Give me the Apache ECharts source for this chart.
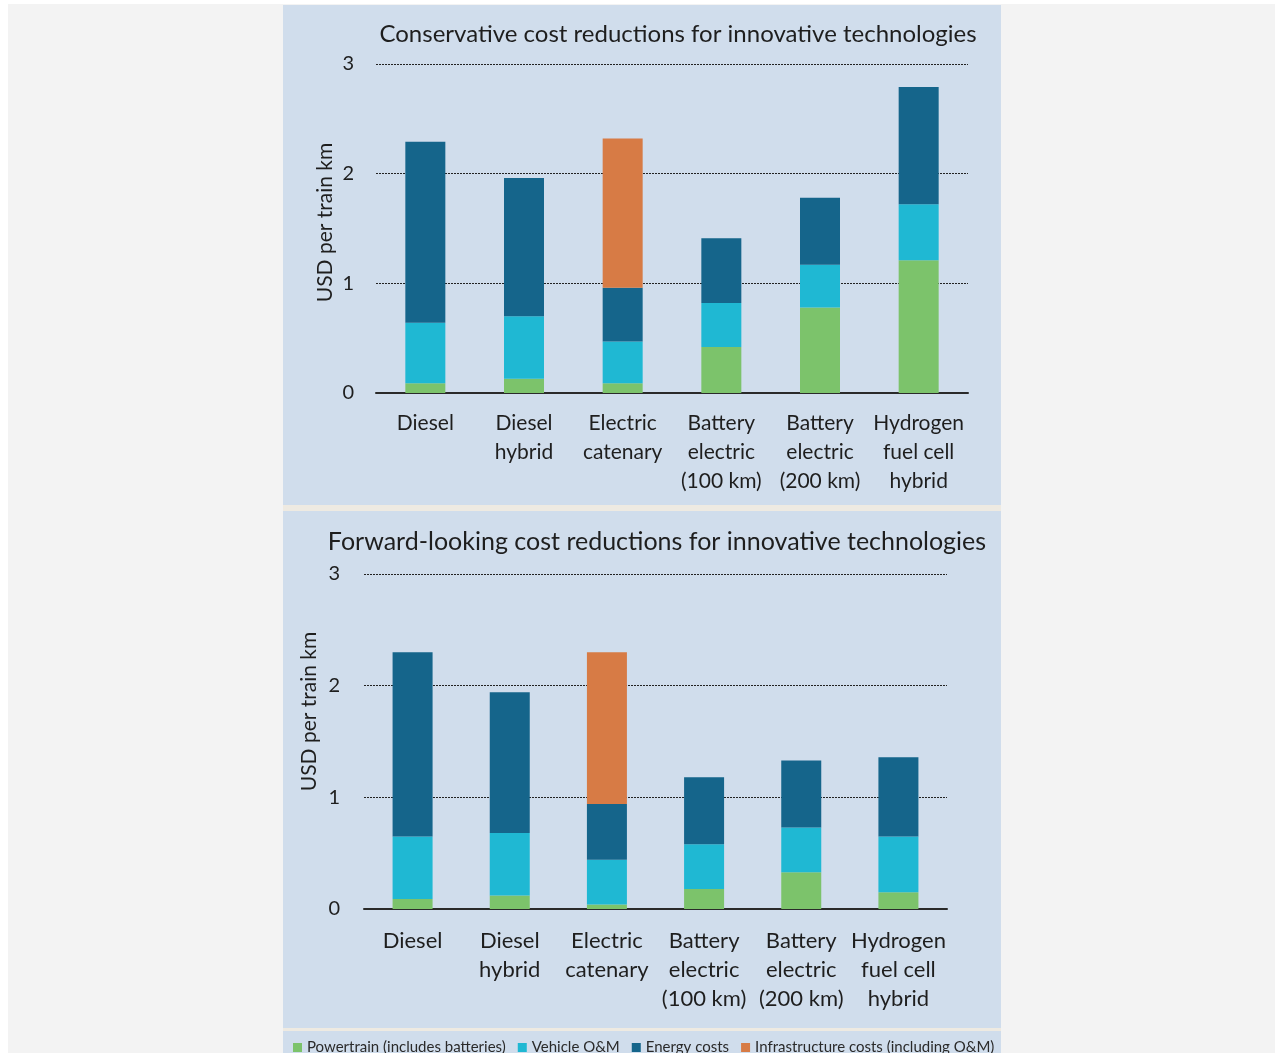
<!DOCTYPE html>
<html>
<head>
<meta charset="utf-8">
<title>Rail cost comparison</title>
<script src="https://cdn.jsdelivr.net/npm/echarts@6/dist/echarts.min.js"></script>
<style>
  html, body { margin: 0; padding: 0; background: #ffffff; }
  body { width: 1275px; height: 1053px; position: relative; overflow: hidden; }
  .panel { position: absolute; }
  #chart { position: absolute; left: 0; top: 0; width: 1275px; height: 1053px; }
</style>
</head>
<body>
<div class="panel" style="left:8px;top:4px;width:1267px;height:1049px;background:#f3f3f3;"></div>
<div class="panel" style="left:283px;top:5px;width:718px;height:500px;background:#d0ddec;"></div>
<div class="panel" style="left:283px;top:505px;width:718px;height:6px;background:#eeeae2;"></div>
<div class="panel" style="left:283px;top:511px;width:718px;height:517px;background:#d0ddec;"></div>
<div class="panel" style="left:283px;top:1028px;width:718px;height:3px;background:#eeeae2;"></div>
<div class="panel" style="left:283px;top:1031px;width:718px;height:22px;background:#d0ddec;"></div>
<div id="chart"></div>
<script>
// Technologies compared (x-axis categories)
const categories = [
  'Diesel',
  'Diesel\nhybrid',
  'Electric\ncatenary',
  'Battery\nelectric\n(100 km)',
  'Battery\nelectric\n(200 km)',
  'Hydrogen\nfuel cell\nhybrid'
];

// Y-axis ticks (USD per train km)
const yTicks = [0, 1, 2, 3];

// Cost components, conservative cost reductions
const powertrainCons = [0.09, 0.13, 0.09, 0.42, 0.78, 1.21];
const vehicleOmCons  = [0.55, 0.57, 0.38, 0.40, 0.39, 0.51];
const energyCons     = [1.65, 1.26, 0.49, 0.59, 0.61, 1.07];
const infraCons      = [0, 0, 1.36, 0, 0, 0];

// Cost components, forward-looking cost reductions
const powertrainFwd = [0.09, 0.12, 0.04, 0.18, 0.33, 0.15];
const vehicleOmFwd  = [0.56, 0.56, 0.40, 0.40, 0.40, 0.50];
const energyFwd     = [1.65, 1.26, 0.50, 0.60, 0.60, 0.71];
const infraFwd      = [0, 0, 1.36, 0, 0, 0];

const seriesNames = [
  'Powertrain (includes batteries)',
  'Vehicle O&M',
  'Energy costs',
  'Infrastructure costs (including O&M)'
];
const colors = ['#7cc36b', '#1fb8d3', '#15658b', '#d77b45'];

const FONT = 'Lato';
const textColor = '#1e1e1e';

function xAxisFor(gridIndex, fontSize, margin) {
  return {
    type: 'category',
    gridIndex: gridIndex,
    data: categories,
    axisLine: { show: true, lineStyle: { color: '#2a2a2a', width: 2 } },
    axisTick: { show: false },
    axisLabel: {
      color: textColor, fontFamily: FONT, fontSize: fontSize,
      lineHeight: 29, margin: margin, interval: 0
    }
  };
}

function yAxisFor(gridIndex, fontSize, margin, nameGap, namePad) {
  return {
    type: 'value',
    gridIndex: gridIndex,
    min: 0, max: 3, interval: 1,
    name: 'USD per train km',
    nameLocation: 'middle',
    nameGap: nameGap,
    nameTextStyle: { color: textColor, fontFamily: FONT, fontSize: 21, padding: namePad },
    axisLine: { show: false },
    axisTick: { show: false },
    axisLabel: {
      color: textColor, fontFamily: FONT, fontSize: fontSize, margin: margin,
      formatter: function (v) { return yTicks.indexOf(v) >= 0 ? String(v) : ''; }
    },
    splitLine: { show: true, lineStyle: { color: '#222', width: 1, type: [2, 1] } }
  };
}

function barSeries(gridIndex, stack, values) {
  return values.map(function (vals, i) {
    return {
      name: seriesNames[i],
      type: 'bar',
      stack: stack,
      xAxisIndex: gridIndex,
      yAxisIndex: gridIndex,
      barWidth: 40,
      data: vals,
      itemStyle: { color: colors[i] },
      emphasis: { disabled: true }
    };
  });
}

const option = {
  animation: false,
  backgroundColor: 'transparent',
  title: [
    {
      text: 'Conservative cost reductions for innovative technologies',
      left: 678, top: 22, textAlign: 'center', padding: 0,
      textStyle: { color: textColor, fontFamily: FONT, fontSize: 24, fontWeight: 'normal' }
    },
    {
      text: 'Forward-looking cost reductions for innovative technologies',
      left: 657, top: 529, textAlign: 'center', padding: 0,
      textStyle: { color: textColor, fontFamily: FONT, fontSize: 25, fontWeight: 'normal' }
    }
  ],
  legend: {
    data: seriesNames,
    left: 293, top: 1040, padding: 0,
    itemWidth: 9, itemHeight: 9, itemGap: 12,
    icon: 'rect',
    textStyle: { color: '#2a2a2a', fontFamily: FONT, fontSize: 15 }
  },
  grid: [
    { left: 376, top: 64, width: 592, height: 329, containLabel: false },
    { left: 364, top: 574, width: 583, height: 335, containLabel: false }
  ],
  xAxis: [xAxisFor(0, 21, 16), xAxisFor(1, 22, 17)],
  yAxis: [yAxisFor(0, 20, 22, 40, [0, 0, 0, 12]), yAxisFor(1, 20, 24, 44, [0, 0, 0, 60])],
  series: [].concat(
    barSeries(0, 'cons', [powertrainCons, vehicleOmCons, energyCons, infraCons]),
    barSeries(1, 'fwd', [powertrainFwd, vehicleOmFwd, energyFwd, infraFwd])
  )
};

const chart = echarts.init(document.getElementById('chart'), null, { renderer: 'canvas' });
chart.setOption(option);
</script>
</body>
</html>
